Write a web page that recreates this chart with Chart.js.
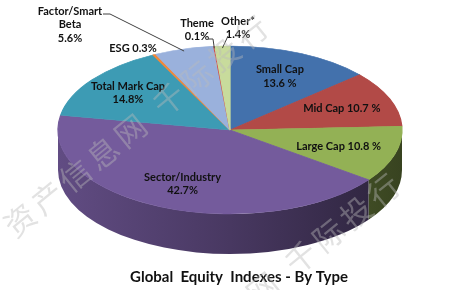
<!DOCTYPE html>
<html>
<head>
<meta charset="utf-8">
<script src="https://cdn.jsdelivr.net/npm/chart.js@4.4.1/dist/chart.umd.min.js"></script>
<style>
  html, body { margin: 0; padding: 0; background: #fff; }
  #wrap { width: 456px; height: 290px; }
</style>
</head>
<body>
<div id="wrap"><canvas id="typeChart"></canvas></div>
<script>
const typeLabels = ["Small Cap", "Mid Cap", "Large Cap", "Sector/Industry", "Total Mark Cap", "ESG", "Factor/Smart Beta", "Theme", "Other*"];
const typeShares = [13.6, 10.7, 10.8, 42.7, 14.8, 0.3, 5.6, 0.1, 1.4];
const labelLines = [
  ["Small Cap", "13.6 %"],
  ["Mid Cap 10.7 %"],
  ["Large Cap 10.8 %"],
  ["Sector/Industry", "42.7%"],
  ["Total Mark Cap", "14.8%"],
  ["ESG 0.3%"],
  ["Factor/Smart", "Beta", "5.6%"],
  ["Theme", "0.1%"],
  ["Other*", "1.4%"]
];
const sliceColors = ["#4371AC", "#B24A47", "#93B155", "#745B9C", "#3D9BB4", "#F0883A", "#9AB1DC", "#D24F4B", "#C8DB9C"];
const chartTitle = "Global  Equity  Indexes - By Type";
const watermarkText = "资产信息网 千际投行";

// where the squashed pie goes on the page
const CX = 230, CY = 130, RX = 172, RY = 84, DEPTH = 40;
// small slices get their labels outside, with a leader line
const outsideLabels = {
  5: { x: 133, y: 48, lead: null },
  6: { x: 70, y: 11, lead: [[103, 14], [110, 14]] },
  7: { x: 197, y: 23, lead: [[208, 39], [213, 39]] },
  8: { x: 238, y: 21, lead: [[228, 36]] }
};
// inside labels sit this far out along the slice middle
const labelReach = [0.7, 0.7, 0.66, 0.7, 0.74];

function shade(hex, f) {
  const n = parseInt(hex.slice(1), 16);
  const r = (n >> 16) & 255, g = (n >> 8) & 255, b = n & 255;
  return "rgb(" + Math.round(r * f) + "," + Math.round(g * f) + "," + Math.round(b * f) + ")";
}

function onEllipse(a, f) {
  return { x: CX + RX * f * Math.cos(a), y: CY + RY * f * Math.sin(a) };
}

// one character at a time so the spacing matches the faint stamp
function drawWatermark(ctx, x, y) {
  const ang = -39 * Math.PI / 180, step = 35.5;
  ctx.save();
  ctx.font = '31px "Noto Sans CJK SC"';
  ctx.fillStyle = "rgba(185,185,185,0.42)";
  ctx.textAlign = "center";
  ctx.textBaseline = "middle";
  let t = 0;
  for (const ch of watermarkText) {
    if (ch === " ") { t += 0.4; continue; }
    ctx.save();
    ctx.translate(x + Math.cos(ang) * step * t, y + Math.sin(ang) * step * t);
    ctx.rotate(ang);
    ctx.fillText(ch, 0, 0);
    ctx.restore();
    t += 1;
  }
  ctx.restore();
}

const pie3d = {
  id: "pie3d",
  beforeDatasetsDraw(chart) {
    const ctx = chart.ctx;
    const arcs = chart.getDatasetMeta(0).data;
    // the side wall, only the front half shows
    arcs.forEach((arc, i) => {
      const s = Math.max(arc.startAngle, 0);
      const e = Math.min(arc.endAngle, Math.PI);
      if (e <= s) return;
      const g = ctx.createLinearGradient(CX - RX, 0, CX + RX, 0);
      g.addColorStop(0, shade(sliceColors[i], 0.84));
      g.addColorStop(0.5, shade(sliceColors[i], 0.62));
      g.addColorStop(1, shade(sliceColors[i], 0.38));
      ctx.beginPath();
      ctx.ellipse(CX, CY, RX, RY, 0, s, e);
      ctx.lineTo(CX + RX * Math.cos(e), CY + RY * Math.sin(e) + DEPTH);
      ctx.ellipse(CX, CY + DEPTH, RX, RY, 0, e, s, true);
      ctx.closePath();
      ctx.fillStyle = g;
      ctx.fill();
    });
    const a = arcs[0];
    ctx.save();
    ctx.translate(CX, CY);
    ctx.scale(RX / a.outerRadius, RY / a.outerRadius);
    ctx.translate(-a.x, -a.y);
  },
  afterDatasetsDraw(chart) {
    const ctx = chart.ctx;
    ctx.restore();
    const arcs = chart.getDatasetMeta(0).data;
    ctx.save();
    ctx.font = 'bold 11px "Lato"';
    ctx.fillStyle = "#111";
    ctx.textAlign = "center";
    ctx.textBaseline = "middle";
    arcs.forEach((arc, i) => {
      const mid = (arc.startAngle + arc.endAngle) / 2;
      const lines = labelLines[i];
      const out = outsideLabels[i];
      if (out) {
        lines.forEach((t, k) => ctx.fillText(t, out.x, out.y + k * 13.5));
        if (out.lead) {
          const p = onEllipse(mid, 1);
          ctx.beginPath();
          ctx.moveTo(out.lead[0][0], out.lead[0][1]);
          out.lead.slice(1).forEach(q => ctx.lineTo(q[0], q[1]));
          ctx.lineTo(p.x, p.y + 2);
          ctx.strokeStyle = "#404040";
          ctx.lineWidth = 1;
          ctx.stroke();
        }
      } else {
        const p = onEllipse(mid, labelReach[i]);
        const top = p.y - (lines.length - 1) * 13.5 / 2;
        lines.forEach((t, k) => ctx.fillText(t, p.x, top + k * 13.5));
      }
    });
    ctx.restore();
  },
  afterDraw(chart) {
    const ctx = chart.ctx;
    drawWatermark(ctx, 20, 220);
    drawWatermark(ctx, 152, 378);
  }
};

new Chart(document.getElementById("typeChart"), {
  type: "pie",
  data: {
    labels: typeLabels,
    datasets: [{
      data: typeShares,
      backgroundColor: sliceColors,
      borderColor: sliceColors,
      borderWidth: 1,
      clip: false
    }]
  },
  options: {
    responsive: true,
    maintainAspectRatio: false,
    animation: false,
    layout: { padding: { left: 22 } },
    plugins: {
      legend: { display: false },
      tooltip: { enabled: false },
      title: {
        display: true,
        text: chartTitle,
        position: "bottom",
        color: "#111",
        font: { family: "Lato", size: 15, weight: "bold" },
        padding: { top: 4, bottom: 4 }
      }
    }
  },
  plugins: [pie3d]
});
</script>
</body>
</html>
